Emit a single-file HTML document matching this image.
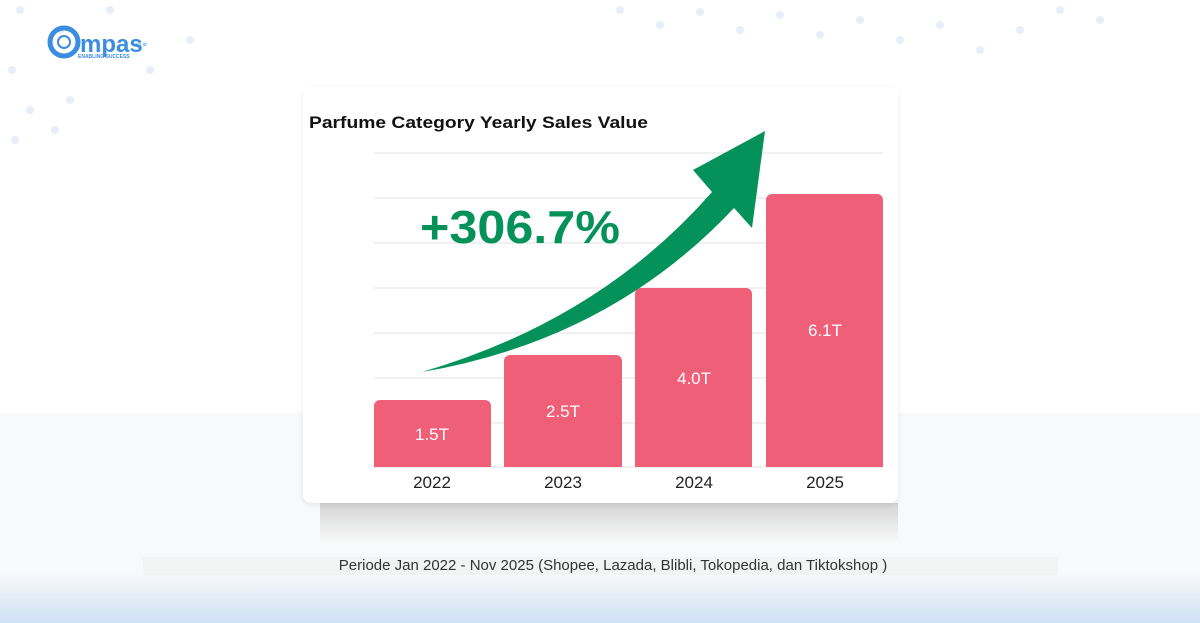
<!DOCTYPE html>
<html><head><style>
body{margin:0;width:1200px;height:623px;overflow:hidden;position:relative;font-family:"Liberation Sans",sans-serif;background:#fff}
.abs{position:absolute}
</style></head><body>
<div class="abs" style="left:0;top:413px;width:1200px;height:210px;background:linear-gradient(#f8f9fa 0,#f8f9fa 160px,#cfe1f6 210px)"></div>
<div class="abs" style="left:143px;top:557px;width:915px;height:18px;background:#f2f3f3"></div>
<div class="abs" style="left:320px;top:503px;width:578px;height:40px;background:linear-gradient(#c8c8c8,#fafafa);opacity:.75"></div>
<svg class="abs" style="left:0;top:0" width="1200" height="150">
<g fill="#e8eef8">
<circle cx="20" cy="10" r="4"/><circle cx="60" cy="30" r="4"/><circle cx="12" cy="70" r="4"/><circle cx="30" cy="110" r="4"/><circle cx="70" cy="100" r="4"/><circle cx="110" cy="10" r="4"/><circle cx="150" cy="70" r="4"/><circle cx="190" cy="40" r="4"/><circle cx="15" cy="140" r="4"/><circle cx="55" cy="130" r="4"/>
<circle cx="620" cy="10" r="4"/><circle cx="660" cy="25" r="4"/><circle cx="700" cy="12" r="4"/><circle cx="740" cy="30" r="4"/><circle cx="780" cy="15" r="4"/><circle cx="820" cy="35" r="4"/><circle cx="860" cy="20" r="4"/><circle cx="900" cy="40" r="4"/><circle cx="940" cy="25" r="4"/><circle cx="980" cy="50" r="4"/><circle cx="1020" cy="30" r="4"/><circle cx="1060" cy="10" r="4"/><circle cx="1100" cy="20" r="4"/>
</g>
<circle cx="64" cy="42" r="14" fill="none" stroke="#3b8de0" stroke-width="5"/>
<circle cx="64" cy="42" r="6" fill="none" stroke="#3b8de0" stroke-width="2"/>
<text x="80" y="52" font-size="24" font-weight="bold" fill="#3b8de0">mpas</text>
<text x="136" y="46" font-size="5" fill="#3b8de0">co.id</text>
<text x="78" y="58" font-size="5" font-weight="bold" fill="#3b8de0">ENABLING SUCCESS</text>
</svg>
<div class="abs" style="left:303px;top:87px;width:595px;height:416px;background:#fff;border-radius:8px;box-shadow:0 2px 6px rgba(0,0,0,.08)"></div>
<svg class="abs" style="left:0;top:0" width="1200" height="623">
<text x="309" y="128" font-size="17" font-weight="bold" fill="#111" textLength="339" lengthAdjust="spacingAndGlyphs">Parfume Category Yearly Sales Value</text>
<g stroke="#e2e2e2" stroke-width="1">
<line x1="374" x2="883" y1="153" y2="153"/><line x1="374" x2="883" y1="198" y2="198"/><line x1="374" x2="883" y1="243" y2="243"/><line x1="374" x2="883" y1="288" y2="288"/><line x1="374" x2="883" y1="333" y2="333"/><line x1="374" x2="883" y1="378" y2="378"/><line x1="374" x2="883" y1="423" y2="423"/><line x1="374" x2="883" y1="467" y2="467"/>
</g>
<g fill="#ef5f78">
<path d="M374 467V406a6 6 0 0 1 6-6h105a6 6 0 0 1 6 6v61z"/>
<path d="M504 467V361a6 6 0 0 1 6-6h106a6 6 0 0 1 6 6v106z"/>
<path d="M635 467V294a6 6 0 0 1 6-6h105a6 6 0 0 1 6 6v173z"/>
<path d="M766 467V200a6 6 0 0 1 6-6h105a6 6 0 0 1 6 6v267z"/>
</g>
<g fill="#fff" font-size="17" text-anchor="middle">
<text x="432" y="440">1.5T</text><text x="563" y="417">2.5T</text><text x="694" y="384">4.0T</text><text x="825" y="336">6.1T</text>
</g>
<g fill="#222" font-size="17" text-anchor="middle">
<text x="432" y="488">2022</text><text x="563" y="488">2023</text><text x="694" y="488">2024</text><text x="825" y="488">2025</text>
</g>
<path d="M422 372 Q600 320 712 192 L693 170 L765 131 L752 228 L734 208 Q610 340 422 372Z" fill="#04925a"/>
<text x="420" y="243" font-size="46" font-weight="bold" fill="#04925a" textLength="200" lengthAdjust="spacingAndGlyphs">+306.7%</text>
<text x="613" y="570" font-size="15" fill="#333" text-anchor="middle">Periode Jan 2022 - Nov 2025 (Shopee, Lazada, Blibli, Tokopedia, dan Tiktokshop )</text>
</svg>
</body></html>
